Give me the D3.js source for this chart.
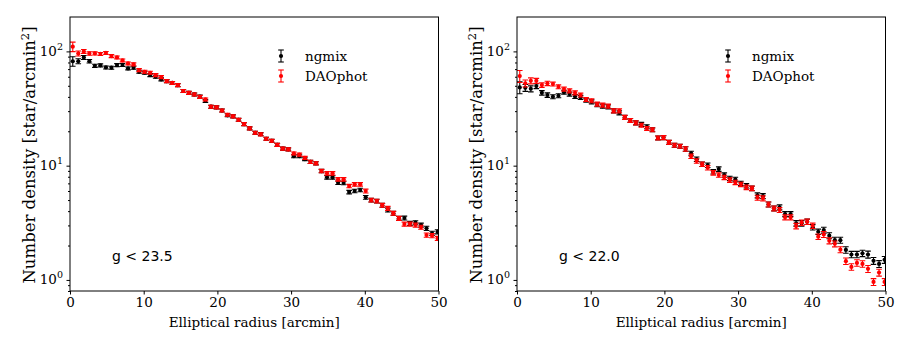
<!DOCTYPE html>
<html>
<head>
<meta charset="utf-8">
<script src="https://cdn.jsdelivr.net/npm/d3@7"></script>
<style>
  body { margin: 0; background: #fff; }
  svg { display: block; }
</style>
</head>
<body>
<script>
var W = 909, H = 343;

// bin centres of the elliptical annuli [arcmin]
var radius = [
  0.375, 1.125, 1.875, 2.625, 3.375, 4.125, 4.875, 5.625, 6.375, 7.125,
  7.875, 8.625, 9.375, 10.125, 10.875, 11.625, 12.375, 13.125, 13.875, 14.625,
  15.375, 16.125, 16.875, 17.625, 18.375, 19.125, 19.875, 20.625, 21.375, 22.125,
  22.875, 23.625, 24.375, 25.125, 25.875, 26.625, 27.375, 28.125, 28.875, 29.625,
  30.375, 31.125, 31.875, 32.625, 33.375, 34.125, 34.875, 35.625, 36.375, 37.125,
  37.875, 38.625, 39.375, 40.125, 40.875, 41.625, 42.375, 43.125, 43.875, 44.625,
  45.375, 46.125, 46.875, 47.625, 48.375, 49.125, 49.875
];

// g < 23.5
var ngmixDeep = [
  82, 82, 88.6, 82, 74.8, 75.5, 72.4, 72, 75.9, 76,
  71, 72, 66.3, 65, 62, 60, 56.9, 55, 53, 50.7,
  45, 43.4, 42, 40.3, 36.8, 32.8, 32.4, 30.4, 27.6, 27,
  25.2, 23.1, 21.2, 19.4, 18.9, 17.2, 16.5, 15.2, 14.1, 13.9,
  12.1, 12.1, 11.4, 10.8, 10.5, 8.97, 7.9, 7.9, 7.09, 7.05,
  5.87, 6.0, 6.12, 5.28, 5.0, 4.9, 4.5, 4.09, 3.83, 3.46,
  3.48, 3.13, 3.17, 3.02, 2.83, 2.56, 2.64
];
var daoDeep = [
  110, 96, 100, 96, 96, 95, 97, 91, 88.6, 83.4,
  78.5, 77, 68.6, 66.3, 65, 62, 59.6, 55, 53, 50.7,
  45, 43.4, 42, 40, 38, 32.8, 32.4, 30.4, 27.9, 27,
  25.2, 23.1, 21.2, 19.4, 18.8, 17.2, 16.5, 15.2, 14.1, 13.9,
  12.8, 12.5, 11.7, 10.8, 10.5, 8.97, 8.57, 8.57, 7.59, 7.59,
  6.63, 6.86, 6.86, 6.0, 5.0, 4.9, 4.5, 4.23, 3.83, 3.46,
  3.08, 3.08, 3.02, 2.89, 2.47, 2.44, 2.31
];
var errDeep = [
  0.095, 0.05, 0.04, 0.035, 0.032, 0.03, 0.03, 0.03, 0.03, 0.03,
  0.03, 0.03, 0.03, 0.03, 0.03, 0.03, 0.03, 0.03, 0.03, 0.03,
  0.03, 0.03, 0.03, 0.03, 0.03, 0.03, 0.03, 0.03, 0.03, 0.03,
  0.03, 0.03, 0.03, 0.03, 0.03, 0.03, 0.03, 0.03, 0.03, 0.03,
  0.03, 0.03, 0.03, 0.032, 0.032, 0.035, 0.035, 0.035, 0.035, 0.035,
  0.035, 0.035, 0.035, 0.038, 0.038, 0.038, 0.04, 0.04, 0.04, 0.04,
  0.04, 0.04, 0.04, 0.04, 0.042, 0.042, 0.042
];

// g < 22.0
var ngmixBright = [
  48.4, 48, 47.1, 49.7, 43.4, 41.5, 40.1, 40.9, 44, 42.3,
  40.3, 39.6, 37.5, 36.2, 34.1, 33.2, 32.7, 30.2, 29, 26.5,
  24.9, 23.7, 23.0, 21.9, 20.6, 17.5, 17.6, 16.0, 15.1, 14.8,
  14.0, 12.8, 11.4, 10.3, 10.1, 8.85, 9.34, 8.28, 7.74, 7.58,
  7.0, 6.67, 6.33, 5.5, 5.42, 4.58, 4.23, 4.32, 3.77, 3.77,
  3.13, 3.13, 3.23, 2.89, 2.64, 2.73, 2.44, 2.23, 2.23, 1.83,
  1.67, 1.67, 1.71, 1.67, 1.47, 1.38, 1.5
];
var daoBright = [
  60.8, 52.5, 55.3, 55.3, 50.7, 52.5, 51.8, 49, 46.8, 45.2,
  43.4, 41.5, 38, 37, 34.6, 33.9, 33.2, 30.2, 30.2, 26.5,
  24.9, 23.7, 22.6, 21.2, 20.6, 17.5, 17.6, 16.0, 15.1, 14.8,
  14.0, 12.1, 11.0, 10.3, 9.6, 8.66, 8.28, 7.9, 7.48, 7.14,
  6.86, 6.46, 6.33, 5.24, 5.18, 4.58, 4.23, 4.09, 3.53, 3.53,
  2.96, 3.17, 3.23, 2.98, 2.39, 2.50, 2.20, 2.07, 1.84, 1.46,
  1.30, 1.41, 1.38, 1.25, 0.96, 1.16, 0.96
];
var errBright = [
  0.12, 0.07, 0.06, 0.05, 0.045, 0.045, 0.04, 0.04, 0.04, 0.04,
  0.04, 0.04, 0.04, 0.04, 0.04, 0.04, 0.04, 0.04, 0.04, 0.04,
  0.04, 0.04, 0.04, 0.04, 0.04, 0.04, 0.04, 0.04, 0.04, 0.04,
  0.045, 0.045, 0.045, 0.045, 0.045, 0.045, 0.045, 0.045, 0.045, 0.045,
  0.045, 0.045, 0.045, 0.05, 0.05, 0.05, 0.05, 0.05, 0.05, 0.05,
  0.055, 0.055, 0.055, 0.055, 0.055, 0.06, 0.06, 0.06, 0.06, 0.065,
  0.065, 0.065, 0.065, 0.07, 0.07, 0.07, 0.07
];

var xTicks = [0, 10, 20, 30, 40, 50];
var yMajor = [1, 10, 100];
var yExp = ["0", "1", "2"];
var yMinor = [0.8, 0.9, 2, 3, 4, 5, 6, 7, 8, 9, 20, 30, 40, 50, 60, 70, 80, 90];
var legendNames = ["ngmix", "DAOphot"];
var panelCuts = ["g < 23.5", "g < 22.0"];

var colors = ["#000000", "#ff0000"];
var serif = "'DejaVu Serif', serif";
var sans = "'DejaVu Sans', sans-serif";

var panels = [
  { left: 70, right: 438.5, series: [ngmixDeep, daoDeep], err: errDeep, cut: panelCuts[0] },
  { left: 517, right: 885.5, series: [ngmixBright, daoBright], err: errBright, cut: panelCuts[1] }
];
var yTop = 17, yBottom = 291;

var svg = d3.select('body')
  .append('svg')
  .attr('width', W)
  .attr('height', H)
  .attr('viewBox', '0 0 ' + W + ' ' + H);

svg.append('rect').attr('width', W).attr('height', H).attr('fill', '#fff');

panels.forEach(function(p, pi) {
  var x = d3.scaleLinear().domain([0, 50]).range([p.left, p.right]);
  var y = d3.scaleLog().domain([0.8, 200]).range([yBottom, yTop]);

  var g = svg.append('g');

  var clipId = 'clip' + pi;
  svg.append('clipPath').attr('id', clipId)
    .append('rect')
    .attr('x', p.left).attr('y', yTop)
    .attr('width', p.right - p.left).attr('height', yBottom - yTop);

  // data with error bars
  var plot = g.append('g').attr('clip-path', 'url(#' + clipId + ')');
  p.series.forEach(function(vals, si) {
    var pts = vals.map(function(v, i) {
      return { r: radius[i], v: v, e: v * p.err[i] };
    });
    var s = plot.append('g').attr('stroke', colors[si]).attr('fill', colors[si]);
    var pg = s.selectAll('g').data(pts).enter().append('g');
    pg.append('line')
      .attr('x1', function(d) { return x(d.r); })
      .attr('x2', function(d) { return x(d.r); })
      .attr('y1', function(d) { return y(d.v - d.e); })
      .attr('y2', function(d) { return y(d.v + d.e); })
      .attr('stroke-width', 1.1);
    [-1, 1].forEach(function(sg) {
      pg.append('line')
        .attr('x1', function(d) { return x(d.r) - 2.8; })
        .attr('x2', function(d) { return x(d.r) + 2.8; })
        .attr('y1', function(d) { return y(d.v + sg * d.e); })
        .attr('y2', function(d) { return y(d.v + sg * d.e); })
        .attr('stroke-width', 1.1);
    });
    pg.append('circle')
      .attr('cx', function(d) { return x(d.r); })
      .attr('cy', function(d) { return y(d.v); })
      .attr('r', 2.1)
      .attr('stroke', 'none');
  });

  // frame
  g.append('rect')
    .attr('x', p.left).attr('y', yTop)
    .attr('width', p.right - p.left).attr('height', yBottom - yTop)
    .attr('fill', 'none').attr('stroke', '#000').attr('stroke-width', 1);

  // x axis
  var xa = g.append('g')
    .attr('transform', 'translate(0,' + yBottom + ')')
    .call(d3.axisBottom(x).tickValues(xTicks).tickSize(3.5).tickPadding(2.5));
  xa.select('.domain').remove();
  xa.selectAll('text').attr('font-family', serif).attr('font-size', 13.5).attr('fill', '#000');

  // y axis, major and minor ticks
  var ya = g.append('g')
    .attr('transform', 'translate(' + p.left + ',0)')
    .call(d3.axisLeft(y).tickValues(yMajor).tickSize(3.5).tickFormat(''));
  ya.select('.domain').remove();
  var ym = g.append('g')
    .attr('transform', 'translate(' + p.left + ',0)')
    .call(d3.axisLeft(y).tickValues(yMinor).tickSize(2).tickFormat(''));
  ym.select('.domain').remove();

  yMajor.forEach(function(v, k) {
    var t = g.append('text')
      .attr('x', p.left - 7)
      .attr('y', y(v) + 4.5)
      .attr('text-anchor', 'end')
      .attr('font-family', serif)
      .attr('font-size', 13.5);
    t.append('tspan').text('10');
    t.append('tspan').attr('dy', -6).attr('font-size', 9.5).text(yExp[k]);
  });

  // axis titles
  g.append('text')
    .attr('x', (p.left + p.right) / 2)
    .attr('y', 327)
    .attr('text-anchor', 'middle')
    .attr('font-family', serif)
    .attr('font-size', 13.5)
    .text('Elliptical radius [arcmin]');

  var yl = g.append('text')
    .attr('transform', 'translate(' + (p.left - 35) + ',' + ((yTop + yBottom) / 2 + 1) + ') rotate(-90)')
    .attr('text-anchor', 'middle')
    .attr('font-family', serif)
    .attr('font-size', 16.5);
  yl.append('tspan').text('Number density [star/arcmin');
  yl.append('tspan').attr('dy', -6).attr('font-size', 11.5).text('2');
  yl.append('tspan').attr('dy', 6).text(']');

  // legend
  legendNames.forEach(function(name, k) {
    var lx = p.left + 211, ly = 56 + k * 20;
    var lg = g.append('g').attr('stroke', colors[k]).attr('fill', colors[k]);
    lg.append('line').attr('x1', lx).attr('x2', lx).attr('y1', ly - 6).attr('y2', ly + 6).attr('stroke-width', 1.1);
    lg.append('line').attr('x1', lx - 2.8).attr('x2', lx + 2.8).attr('y1', ly - 6).attr('y2', ly - 6).attr('stroke-width', 1.1);
    lg.append('line').attr('x1', lx - 2.8).attr('x2', lx + 2.8).attr('y1', ly + 6).attr('y2', ly + 6).attr('stroke-width', 1.1);
    lg.append('circle').attr('cx', lx).attr('cy', ly).attr('r', 2.1).attr('stroke', 'none');
    g.append('text')
      .attr('x', lx + 24)
      .attr('y', ly + 4.5)
      .attr('font-family', serif)
      .attr('font-size', 13.5)
      .text(name);
  });

  // magnitude cut label
  g.append('text')
    .attr('x', p.left + 42)
    .attr('y', 261)
    .attr('font-family', sans)
    .attr('font-size', 14)
    .text(p.cut);
});
</script>
</body>
</html>
